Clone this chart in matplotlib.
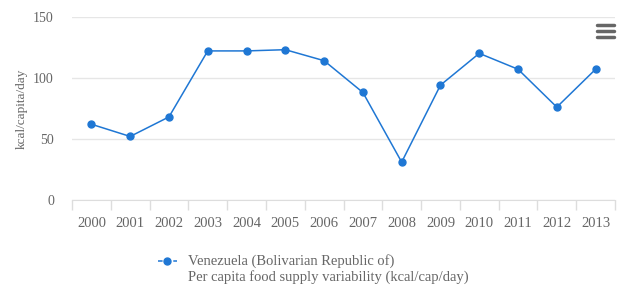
import matplotlib.pyplot as plt
from matplotlib.lines import Line2D

# data
years = ["2000", "2001", "2002", "2003", "2004", "2005", "2006",
         "2007", "2008", "2009", "2010", "2011", "2012", "2013"]
values = [62, 52, 68, 122, 122, 123, 114, 88, 31, 94, 120, 107, 76, 107]
y_ticks = [0, 50, 100, 150]

blue = "#1f77d4"
grey = "#666666"
plt.rcParams["font.family"] = ["Liberation Serif", "DejaVu Serif"]

fig = plt.figure(figsize=(6.17, 2.89), dpi=100)
ax = fig.add_axes([72 / 617, 1 - 200 / 289, 543 / 617, (200 - 16.7) / 289])

x = list(range(len(years)))
ax.plot(x, values, color=blue, lw=1.1, marker="o", ms=5, zorder=3)

ax.set_xlim(-0.5, len(years) - 0.5)
ax.set_ylim(0, 150)
ax.set_yticks(y_ticks)
ax.set_xticks(x)
ax.set_xticklabels(years)
ax.set_xticks([i - 0.5 for i in range(len(years) + 1)], minor=True)
ax.grid(axis="y", color="#e6e6e6", lw=1)
ax.set_axisbelow(True)
for s in ["top", "right", "left"]:
    ax.spines[s].set_visible(False)
ax.spines["bottom"].set_color("#dddddd")
ax.tick_params(axis="y", length=0, labelsize=10, labelcolor=grey, pad=13)
ax.tick_params(axis="x", which="major", length=0, labelsize=10.5, labelcolor=grey, pad=12)
ax.tick_params(axis="x", which="minor", length=7, color="#dddddd", width=1)
ax.set_ylabel("kcal/capita/day", fontsize=9.5, color=grey, labelpad=4)

# legend
fig.add_artist(Line2D([158 / 617, 177 / 617], [1 - 261 / 289] * 2, color=blue,
                      lw=1.1, ls=(0, (3, 2))))
fig.add_artist(Line2D([167 / 617], [1 - 261 / 289], color=blue, marker="o", ms=5))
fig.text(188 / 617, 1 - 261 / 289, "Venezuela (Bolivarian Republic of)",
         fontsize=10.5, color=grey, va="center")
fig.text(188 / 617, 1 - 277 / 289, "Per capita food supply variability (kcal/cap/day)",
         fontsize=10.5, color=grey, va="center")

# menu icon
for yy in [25, 31, 37]:
    fig.add_artist(Line2D([597 / 617, 614 / 617], [1 - yy / 289] * 2, color="#666666",
                          lw=2.5, solid_capstyle="round"))

fig.savefig("out.png", dpi=100)
